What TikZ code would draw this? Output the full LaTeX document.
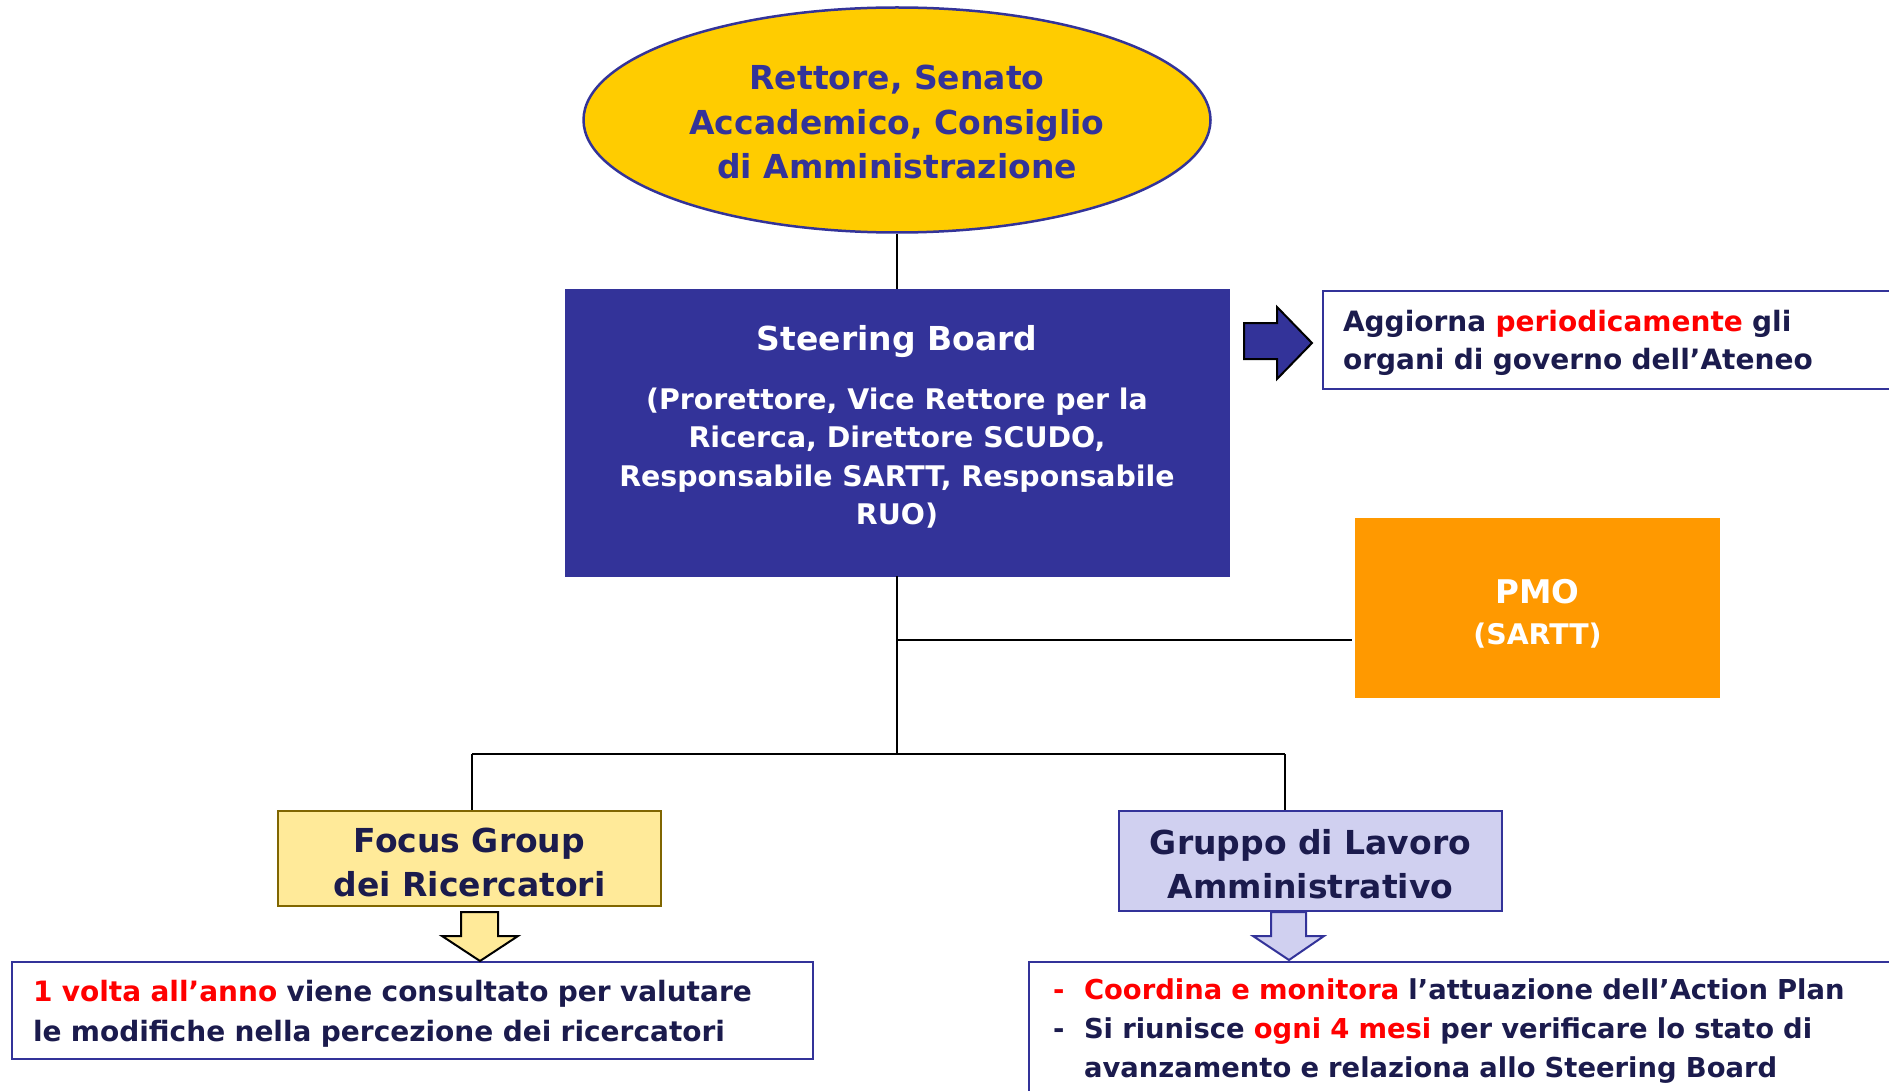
\documentclass[tikz,border=0pt]{standalone}
\usepackage{fontspec}
\setmainfont{DejaVu Sans}
\usepackage{xcolor}
\usepackage{tikz}
\usetikzlibrary{positioning,shapes.geometric}
\definecolor{boardblue}{RGB}{51,51,153}
\definecolor{gold}{RGB}{255,204,0}
\definecolor{pmoorange}{RGB}{255,153,0}
\definecolor{focusfill}{RGB}{255,234,153}
\definecolor{focusedge}{RGB}{128,102,0}
\definecolor{lavender}{RGB}{208,208,240}
\definecolor{inkblue}{RGB}{27,27,77}
\newcommand{\fsz}[2]{\fontsize{#1}{#2}\selectfont}
% taller first line pushes the text block a little down
\newcommand{\topstrut}[1]{\rule{0pt}{#1}}

\begin{document}
\begin{tikzpicture}[x=1pt, y=-1pt,
  every node/.style={font=\bfseries, inner sep=0pt},
  link/.style={line width=2pt},
  unitbox/.style={line width=2.5pt, minimum width=383, text=inkblue, align=center, font=\bfseries\fsz{33}{44}},
  notebox/.style={draw=boardblue, line width=2pt, fill=white, anchor=north west, align=left, text=inkblue},
  bigarrow/.style={line width=2pt, line join=miter}]
\useasboundingbox (0,0) rectangle (1889,1091);

% Governing bodies on top
\node[ellipse, fill=gold, draw=boardblue, line width=2.5pt, minimum width=627, minimum height=225,
  text=boardblue, align=center, font=\bfseries\fsz{33}{44.6}] (rettore) at (897,120)
  {\topstrut{29pt}Rettore, Senato\\Accademico, Consiglio\\di Amministrazione};

% Steering Board
\node[fill=boardblue, draw=boardblue, minimum width=664, minimum height=287] (sb) at (897,432.5) {};
\node[text=white, font=\bfseries\fsz{33}{40}] (sbtitle) at (897,342) {Steering Board};
\node[text=white, align=center, font=\bfseries\fsz{28.4}{38.5}] (sbmembers) at (897,458)
  {(Prorettore, Vice Rettore per la\\Ricerca, Direttore SCUDO,\\Responsabile SARTT, Responsabile\\RUO)};
\draw[link] (rettore.south) -- (sb.north);

% Arrow to the note on the right
\draw[bigarrow, fill=boardblue] (1244,323) -- (1277,323) -- (1277,307) -- (1312,343)
  -- (1277,379) -- (1277,359) -- (1244,359) -- cycle;
\node[notebox, minimum width=580, minimum height=98, text width=540pt, inner xsep=20pt,
  font=\bfseries\fsz{28}{38}] (aggiorna) at (1322,290)
  {\topstrut{27pt}Aggiorna \textcolor{red}{periodicamente} gli\\organi di governo dell’Ateneo};

% PMO
\node[fill=pmoorange, minimum width=365, minimum height=180, text=white, align=center,
  font=\bfseries\fsz{32.6}{41}] (pmo) at (1537.5,608) {\topstrut{35pt}PMO\\{\fsz{28.4}{41}(SARTT)}};

% Tree below the board
\coordinate (pmojoin) at (897,640);
\coordinate (split) at (897,754);
\coordinate (leftdrop) at (472,754);
\coordinate (rightdrop) at (1285,754);
\draw[link] (sb.south) -- (split);
\draw[link] (pmojoin) -- ([xshift=-3pt]pmojoin -| pmo.west);
\draw[link] (leftdrop) -- (rightdrop);

\node[unitbox, draw=focusedge, fill=focusfill, minimum height=95] (focus) at (469.5,858.5)
  {\topstrut{32pt}Focus Group\\dei Ricercatori};
\node[unitbox, draw=boardblue, fill=lavender, minimum height=100] (gruppo) at (1310.5,861)
  {\topstrut{31pt}Gruppo di Lavoro\\Amministrativo};
\draw[link] (leftdrop) -- (leftdrop |- focus.north);
\draw[link] (rightdrop) -- (rightdrop |- gruppo.north);

% Notes at the bottom
\node[notebox, minimum height=97, text width=759pt, inner xsep=21pt,
  font=\bfseries\fsz{28}{40}] (yearly) at (11,961)
  {\topstrut{28pt}\textcolor{red}{1 volta all’anno} viene consultato per valutare\\le modifiche nella percezione dei ricercatori};
\node[notebox, minimum height=138, text width=850pt, inner xsep=24pt,
  font=\bfseries\fsz{27.4}{39}] (monitor) at (1028,961)
  {\textcolor{red}{\makebox[31pt][l]{-}Coordina e monitora} l’attuazione dell’Action Plan\\
   \makebox[31pt][l]{-}Si riunisce \textcolor{red}{ogni 4 mesi} per verificare lo stato di\\
   \hspace*{31pt}avanzamento e relaziona allo Steering Board};

% Block arrows onto the notes
\draw[bigarrow, fill=focusfill, draw=black] (461,912) -- (498,912) -- (498,936) -- (518,936)
  -- (480,961) -- (442,936) -- (461,936) -- cycle;
\draw[bigarrow, fill=lavender, draw=boardblue] (1271,912) -- (1306,912) -- (1306,936) -- (1324,936)
  -- (1289,960) -- (1253,936) -- (1271,936) -- cycle;
\end{tikzpicture}
\end{document}
